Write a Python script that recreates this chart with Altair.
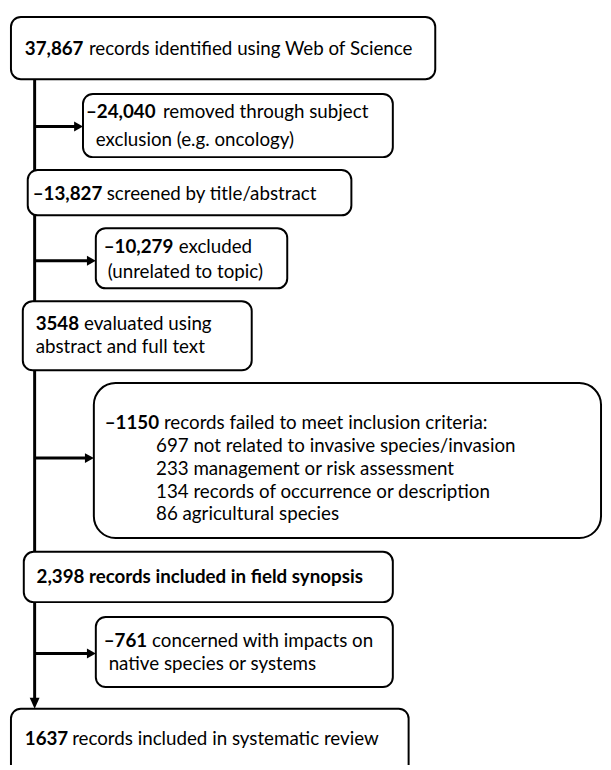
import altair as alt
import pandas as pd

# ---------------- content ----------------
counts = ["37,867", "–24,040", "–13,827", "–10,279", "3548", "–1150", "2,398", "–761", "1637"]
first_rest = [
    "records identified using Web of Science",
    "removed through subject",
    "screened by title/abstract",
    "excluded",
    "evaluated using",
    "records failed to meet inclusion criteria:",
    "records included in field synopsis",
    "concerned  with impacts on",
    "records  included in systematic review",
]
rest_bold = [False, False, False, False, False, False, True, False, False]
extra_lines = [
    [],
    ["exclusion (e.g. oncology)"],
    [],
    ["(unrelated to topic)"],
    ["abstract and full text"],
    ["697 not related to invasive species/invasion",
     "233 management or risk assessment",
     "134 records of occurrence or description",
     "86 agricultural species"],
    [],
    ["native species or systems"],
    [],
]

# ---------------- layout (pixels) ----------------
box_x0 = [11, 84, 28, 97, 23, 95, 24, 97, 11]
box_x1 = [441, 398, 356, 291, 255, 609, 398, 398, 414]
box_y0 = [12, 90, 167, 226, 300, 383, 554, 620, 713]
box_y1 = [75, 154, 213, 287, 370, 540, 605, 691, 800]
box_big = [False, False, False, False, False, True, False, False, False]
count_x = [25, 87, 33, 105, 36, 106, 37, 105, 25]
rest_x = [90, 165, 108, 181, 85, 166, 90, 154, 73]
line1_y = [45, 108, 191, 245, 323, 424, 580, 644, 744]
extra_x = [0, 97, 0, 109, 36, 158, 0, 110, 0]
extra_y = [0, 137, 0, 271, 347, 447, 0, 668, 0]
extra_step = 23

trunk_x = 35
trunk_y0 = 75
trunk_y1 = 713
arrow_y = [123, 259, 459, 657]
arrow_tip = [84, 97, 95, 97]

FONT = "Lato"
FS = 19

# ---------------- tables ----------------
boxes = pd.DataFrame({"x0": box_x0, "x1": box_x1, "y0": box_y0, "y1": box_y1, "big": box_big})

rows = []
for i in range(len(counts)):
    rows.append({"x": count_x[i], "y": line1_y[i], "t": counts[i], "b": True})
    rows.append({"x": rest_x[i], "y": line1_y[i], "t": first_rest[i], "b": rest_bold[i]})
    for k, ln in enumerate(extra_lines[i]):
        rows.append({"x": extra_x[i], "y": extra_y[i] + k * extra_step, "t": ln, "b": False})
texts = pd.DataFrame(rows)

arrows = pd.DataFrame({"x0": [trunk_x] * len(arrow_y), "x1": [t - 4 for t in arrow_tip],
                       "y": arrow_y, "tip": arrow_tip})
trunk = pd.DataFrame({"x": [trunk_x], "y0": [trunk_y0], "y1": [trunk_y1 - 6], "tip": [trunk_y1]})

xs = alt.Scale(domain=[8, 611], nice=False, zero=False)
ys = alt.Scale(domain=[8, 770], nice=False, zero=False, reverse=True)

h_rules = alt.Chart(arrows).mark_rule(color="black", strokeWidth=3).encode(
    x=alt.X("x0:Q", scale=xs, axis=None), x2="x1:Q",
    y=alt.Y("y:Q", scale=ys, axis=None))
v_rule = alt.Chart(trunk).mark_rule(color="black", strokeWidth=3).encode(
    x=alt.X("x:Q", scale=xs, axis=None),
    y=alt.Y("y0:Q", scale=ys, axis=None), y2="y1:Q")
h_heads = alt.Chart(arrows).mark_point(
    shape="M0,0L-1.8,-1L-1.8,1Z", filled=True, size=100, color="black", opacity=1, strokeWidth=0
).encode(x=alt.X("tip:Q", scale=xs, axis=None), y=alt.Y("y:Q", scale=ys, axis=None))
v_head = alt.Chart(trunk).mark_point(
    shape="M0,0L-1,-2.2L1,-2.2Z", filled=True, size=100, color="black", opacity=1, strokeWidth=0
).encode(x=alt.X("x:Q", scale=xs, axis=None), y=alt.Y("tip:Q", scale=ys, axis=None))

def box_layer(big, radius):
    return alt.Chart(boxes).transform_filter(
        alt.datum.big == big
    ).mark_rect(fill="white", stroke="black", strokeWidth=2, cornerRadius=radius, clip=True).encode(
        x=alt.X("x0:Q", scale=xs, axis=None), x2="x1:Q",
        y=alt.Y("y0:Q", scale=ys, axis=None), y2="y1:Q")

small_boxes = box_layer(False, 10)
big_box = box_layer(True, 22)

def text_layer(bold):
    return alt.Chart(texts).transform_filter(alt.datum.b == bold).mark_text(
        align="left", baseline="middle", font=FONT, fontSize=FS,
        fontWeight="bold" if bold else "normal", color="black"
    ).encode(x=alt.X("x:Q", scale=xs, axis=None), y=alt.Y("y:Q", scale=ys, axis=None), text="t:N")

chart = alt.layer(
    v_rule, h_rules, h_heads, v_head, small_boxes, big_box, text_layer(True), text_layer(False)
).properties(
    width=603, height=762, padding=0, autosize=alt.AutoSizeParams(type="none")
).configure_view(stroke=None)

chart.save("out.html", embed_options={"renderer": "svg", "actions": False})
